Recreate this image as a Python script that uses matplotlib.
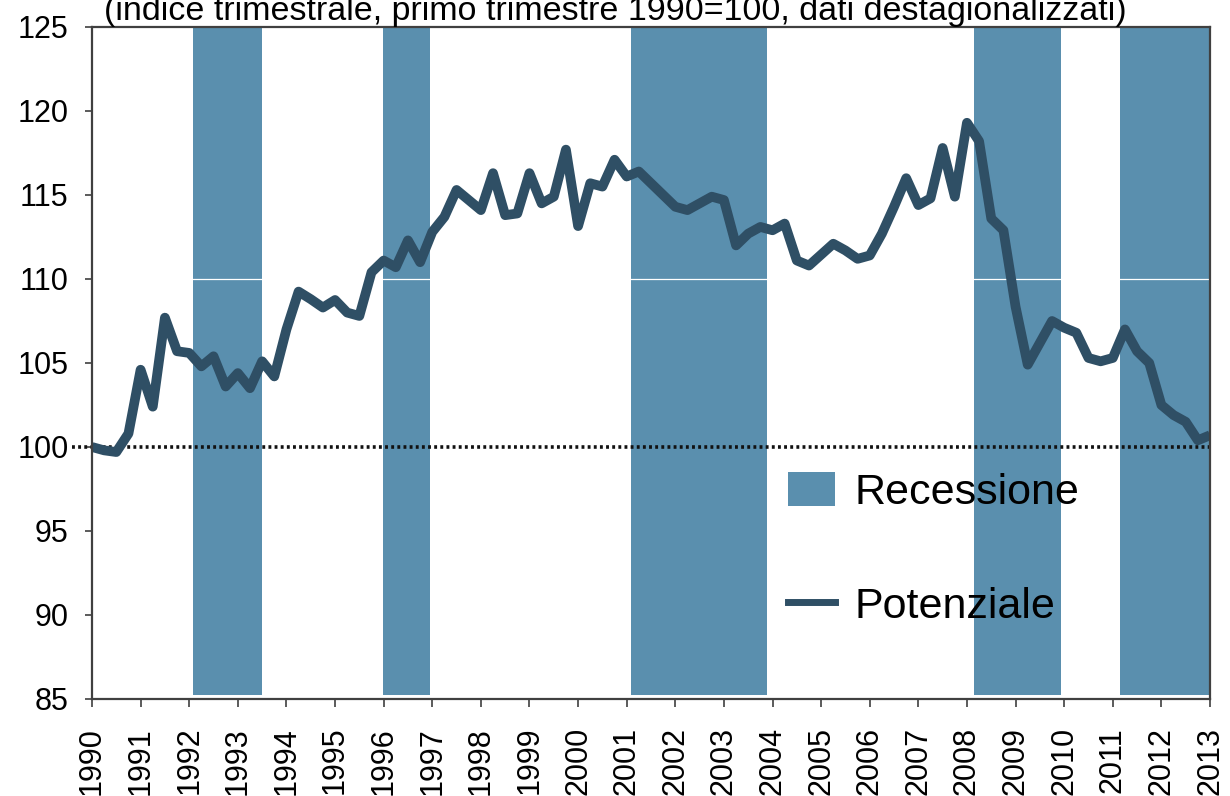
import numpy as np
import matplotlib
matplotlib.use("Agg")
import matplotlib.pyplot as plt
from matplotlib.patches import Patch
from matplotlib.lines import Line2D

plt.rcParams['font.family'] = ['Liberation Sans', 'DejaVu Sans']

# Quarterly index, 1990Q1 = 100 (1990Q1 .. 2013Q1)
start_year = 1990
potenziale = [
    100.0, 99.8, 99.7, 100.8,      # 1990
    104.6, 102.4, 107.7, 105.7,    # 1991
    105.6, 104.8, 105.4, 103.6,    # 1992
    104.4, 103.5, 105.1, 104.2,    # 1993
    107.0, 109.25, 108.8, 108.3,   # 1994
    108.75, 108.0, 107.8, 110.4,   # 1995
    111.1, 110.7, 112.3, 111.0,    # 1996
    112.8, 113.7, 115.3, 114.7,    # 1997
    114.1, 116.3, 113.8, 113.9,    # 1998
    116.3, 114.5, 114.9, 117.7,    # 1999
    113.15, 115.7, 115.5, 117.1,   # 2000
    116.1, 116.4, 115.7, 115.0,    # 2001
    114.3, 114.1, 114.5, 114.9,    # 2002
    114.7, 112.0, 112.7, 113.1,    # 2003
    112.9, 113.3, 111.1, 110.8,    # 2004
    111.45, 112.1, 111.7, 111.2,   # 2005
    111.4, 112.7, 114.3, 116.0,    # 2006
    114.4, 114.8, 117.8, 114.9,    # 2007
    119.3, 118.2, 113.6, 112.9,    # 2008
    108.35, 104.9, 106.2, 107.5,   # 2009
    107.1, 106.8, 105.3, 105.1,    # 2010
    105.3, 107.0, 105.7, 105.0,    # 2011
    102.5, 101.9, 101.5, 100.4,    # 2012
    100.7,                         # 2013
]
recession_start = [1992.08, 1995.99, 2001.09, 2008.15, 2011.15]
recession_end = [1993.50, 1996.95, 2003.89, 2009.93, 2013.06]
years = list(range(1990, 2014))
yticks = [85, 90, 95, 100, 105, 110, 115, 120, 125]

title = "(indice trimestrale, primo trimestre 1990=100, dati destagionalizzati)"
legend_labels = ["Recessione", "Potenziale"]

band_color = "#5a8fae"
line_color = "#2f4f65"

fig = plt.figure(figsize=(12.3, 7.96), dpi=100)
ax = fig.add_axes([92/1230, 1 - 699/796, (1210-92)/1230, (699-27)/796])

x = start_year + 0.25 * np.arange(len(potenziale))

for a, b in zip(recession_start, recession_end):
    ax.axvspan(a, b, ymin=0.006, ymax=1.0, color=band_color, lw=0, zorder=1)

ax.axhline(110, color="white", lw=0.9, zorder=2)
ax.axhline(100, xmin=-0.018, xmax=1.0, color="#111111", lw=2.6,
           linestyle=(0, (0.8, 0.9)), zorder=3, clip_on=False)

ax.plot(x, potenziale, color=line_color, lw=7, solid_joinstyle='round',
        solid_capstyle='butt', zorder=4)

ax.set_xlim(1990, 2013)
ax.set_ylim(85, 125)
ax.set_xticks(years)
ax.set_xticklabels([str(y) for y in years], rotation=90, fontsize=22)
ax.set_yticks(yticks)
ax.set_yticklabels([str(v) for v in yticks], fontsize=22)
ax.tick_params(axis='x', direction='out', length=6, width=1.2, color="#404040", pad=14)
ax.tick_params(axis='y', direction='out', length=5, width=1.2, color="#404040", pad=12)
for s in ax.spines.values():
    s.set_color("#404040")
    s.set_linewidth(1.6)
    s.set_zorder(5)

fig.text(0.5, 1 - 20/796, title, ha='center', va='baseline', fontsize=24.5)

handles = [Patch(facecolor=band_color, edgecolor='none'),
           Line2D([0], [0], color=line_color, lw=5)]
leg = ax.legend(handles, legend_labels, loc='upper left',
                bbox_to_anchor=(788/1230, 1 - 472/796), bbox_transform=fig.transFigure,
                frameon=False, fontsize=31, handlelength=1.1, handleheight=0.85,
                handletextpad=0.45, labelspacing=1.7, borderpad=0, borderaxespad=0)
leg.set_zorder(6)

fig.savefig("out.png", dpi=100)
